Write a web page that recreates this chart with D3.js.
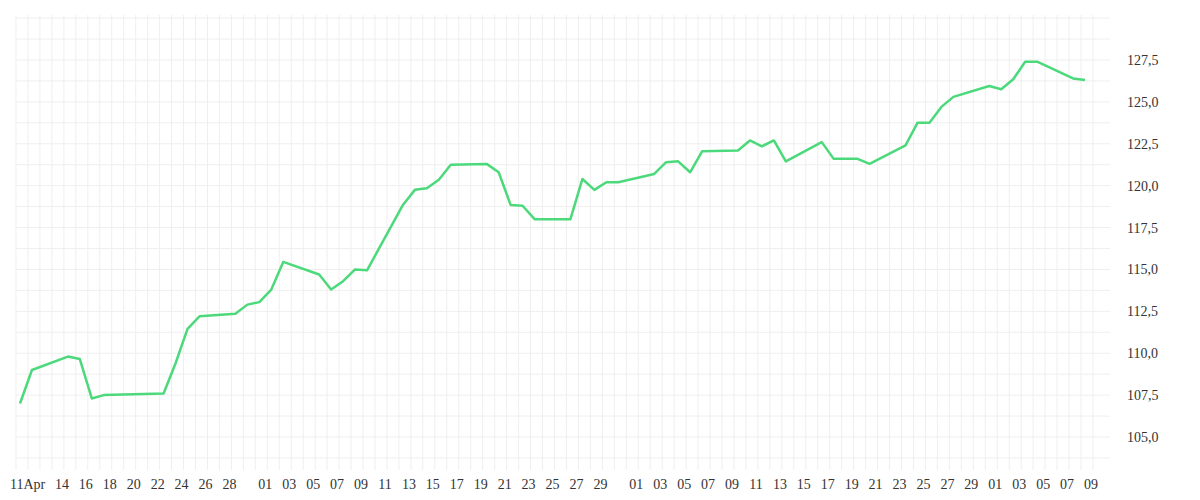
<!DOCTYPE html><html><head><meta charset="utf-8"><script src="https://cdn.jsdelivr.net/npm/d3@7"></script>
<style>body{margin:0;background:#fff}</style></head><body><svg id="c" width="1200" height="500"></svg>
<script>
const dates=["2016-04-11","2016-04-12","2016-04-15","2016-04-16","2016-04-17","2016-04-18","2016-04-23","2016-04-24","2016-04-25","2016-04-26","2016-04-29","2016-04-30","2016-05-01","2016-05-02","2016-05-03","2016-05-06","2016-05-07","2016-05-08","2016-05-09","2016-05-10","2016-05-13","2016-05-14","2016-05-15","2016-05-16","2016-05-17","2016-05-20","2016-05-21","2016-05-22","2016-05-23","2016-05-24","2016-05-27","2016-05-28","2016-05-29","2016-05-30","2016-05-31","2016-06-03","2016-06-04","2016-06-05","2016-06-06","2016-06-07","2016-06-10","2016-06-11","2016-06-12","2016-06-13","2016-06-14","2016-06-17","2016-06-18","2016-06-20","2016-06-21","2016-06-24","2016-06-25","2016-06-26","2016-06-27","2016-06-28","2016-07-01","2016-07-02","2016-07-03","2016-07-04","2016-07-05","2016-07-08","2016-07-09"];
const values=[107.0,109.0,109.8,109.65,107.3,107.5,107.6,109.4,111.45,112.2,112.35,112.9,113.05,113.8,115.45,114.7,113.8,114.3,115.0,114.95,118.85,119.75,119.85,120.35,121.25,121.3,120.8,118.85,118.8,118.0,118.0,120.4,119.75,120.2,120.2,120.7,121.4,121.45,120.8,122.05,122.1,122.7,122.35,122.7,121.45,122.6,121.6,121.6,121.3,122.4,123.75,123.75,124.7,125.3,125.95,125.75,126.35,127.4,127.4,126.4,126.3];
const tickDates=["2016-04-11","2016-04-14","2016-04-16","2016-04-18","2016-04-20","2016-04-22","2016-04-24","2016-04-26","2016-04-28","2016-05-01","2016-05-03","2016-05-05","2016-05-07","2016-05-09","2016-05-11","2016-05-13","2016-05-15","2016-05-17","2016-05-19","2016-05-21","2016-05-23","2016-05-25","2016-05-27","2016-05-29","2016-06-01","2016-06-03","2016-06-05","2016-06-07","2016-06-09","2016-06-11","2016-06-13","2016-06-15","2016-06-17","2016-06-19","2016-06-21","2016-06-23","2016-06-25","2016-06-27","2016-06-29","2016-07-01","2016-07-03","2016-07-05","2016-07-07","2016-07-09"];
const yTicks=[105,107.5,110,112.5,115,117.5,120,122.5,125,127.5];
const p=d3.utcParse("%Y-%m-%d");
const svg=d3.select("#c");
const x=d3.scaleUtc().domain([p("2016-04-11"),p("2016-07-09")]).range([20,1085]);
const y=d3.scaleLinear().domain([105,127.5]).range([437,60]);
const g=svg.append("g");
// vertical day grid
d3.utcDays(p("2016-04-11"),p("2016-07-11")).forEach(d=>{
 g.append("line").attr("x1",x(d)-4).attr("x2",x(d)-4).attr("y1",15).attr("y2",470).attr("stroke","#efefef");
});
d3.range(103.75,130.01,1.25).forEach(v=>{
 g.append("line").attr("x1",16).attr("x2",1110).attr("y1",y(v)).attr("y2",y(v)).attr("stroke","#efefef");
});
const fmt=d3.format(".1f");
yTicks.forEach(v=>svg.append("text").attr("x",1127).attr("y",y(v)+5).text(fmt(v).replace(".",","))
 .attr("font-family","Liberation Serif").attr("font-size",14).attr("fill","#333"));
tickDates.forEach((s,i)=>{const d=p(s);
 svg.append("text").attr("x",i==0?x(d)-10:x(d)+6).attr("y",489).attr("text-anchor",i==0?"start":"middle")
 .text(i==0?"11Apr":d3.utcFormat("%d")(d)).attr("font-family","Liberation Serif").attr("font-size",14).attr("fill","#333");});
const line=d3.line().x((d,i)=>x(p(dates[i]))).y(d=>y(d));
svg.append("path").attr("d",line(values)).attr("fill","none").attr("stroke","#4cd97b").attr("stroke-width",2.5).attr("stroke-linejoin","round");
</script></body></html>
